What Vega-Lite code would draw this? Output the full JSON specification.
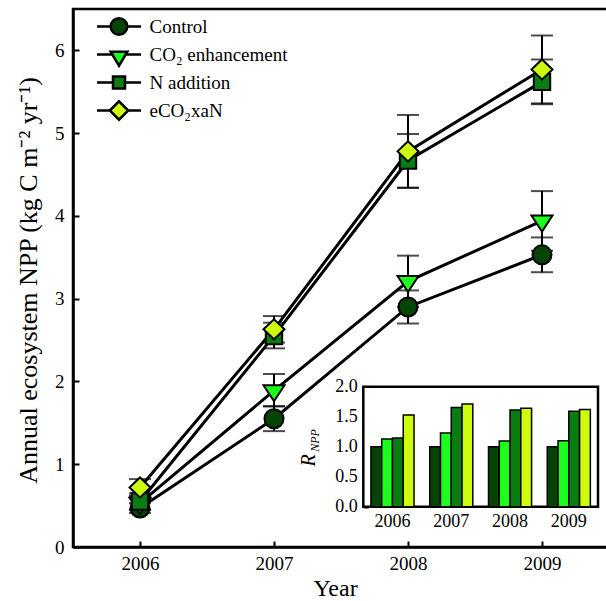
{
  "$schema": "https://vega.github.io/schema/vega-lite/v6.json",
  "width": 536,
  "height": 538,
  "autosize": {"type": "none"},
  "padding": {"left": 73, "top": 9, "right": 0, "bottom": 54},
  "background": "white",
  "config": {
    "font": "Liberation Serif",
    "view": {"stroke": "black", "strokeWidth": 2.5},
    "axis": {
      "grid": false,
      "domainColor": "black",
      "domainWidth": 2.5,
      "tickColor": "black",
      "tickWidth": 2,
      "labelColor": "black",
      "titleColor": "black",
      "labelFont": "Liberation Serif",
      "titleFont": "Liberation Serif",
      "titleFontWeight": "normal"
    },
    "legend": {"labelFont": "Liberation Serif", "labelColor": "black"}
  },
  "datasets": {
    "npp": [
      {"treatment": "Control", "year": 2006, "value": 0.47, "lo": 0.41, "hi": 0.53},
      {"treatment": "Control", "year": 2007, "value": 1.55, "lo": 1.40, "hi": 1.70},
      {"treatment": "Control", "year": 2008, "value": 2.90, "lo": 2.70, "hi": 3.10},
      {"treatment": "Control", "year": 2009, "value": 3.53, "lo": 3.32, "hi": 3.74},
      {"treatment": "CO₂ enhancement", "year": 2006, "value": 0.53, "lo": 0.45, "hi": 0.61},
      {"treatment": "CO₂ enhancement", "year": 2007, "value": 1.89, "lo": 1.70, "hi": 2.09},
      {"treatment": "CO₂ enhancement", "year": 2008, "value": 3.21, "lo": 2.90, "hi": 3.52},
      {"treatment": "CO₂ enhancement", "year": 2009, "value": 3.94, "lo": 3.58, "hi": 4.30},
      {"treatment": "N addition", "year": 2006, "value": 0.55, "lo": 0.45, "hi": 0.65},
      {"treatment": "N addition", "year": 2007, "value": 2.55, "lo": 2.40, "hi": 2.71},
      {"treatment": "N addition", "year": 2008, "value": 4.67, "lo": 4.34, "hi": 4.99},
      {"treatment": "N addition", "year": 2009, "value": 5.62, "lo": 5.35, "hi": 5.89},
      {"treatment": "eCO₂xaN", "year": 2006, "value": 0.72, "lo": 0.62, "hi": 0.82},
      {"treatment": "eCO₂xaN", "year": 2007, "value": 2.63, "lo": 2.47, "hi": 2.79},
      {"treatment": "eCO₂xaN", "year": 2008, "value": 4.78, "lo": 4.34, "hi": 5.22},
      {"treatment": "eCO₂xaN", "year": 2009, "value": 5.77, "lo": 5.36, "hi": 6.18}
    ],
    "ratio": [
      {"year": "2006", "treatment": "Control", "ratio": 1.0},
      {"year": "2006", "treatment": "CO₂ enhancement", "ratio": 1.13},
      {"year": "2006", "treatment": "N addition", "ratio": 1.145},
      {"year": "2006", "treatment": "eCO₂xaN", "ratio": 1.53},
      {"year": "2007", "treatment": "Control", "ratio": 1.0},
      {"year": "2007", "treatment": "CO₂ enhancement", "ratio": 1.23},
      {"year": "2007", "treatment": "N addition", "ratio": 1.655},
      {"year": "2007", "treatment": "eCO₂xaN", "ratio": 1.71},
      {"year": "2008", "treatment": "Control", "ratio": 1.0},
      {"year": "2008", "treatment": "CO₂ enhancement", "ratio": 1.095},
      {"year": "2008", "treatment": "N addition", "ratio": 1.61},
      {"year": "2008", "treatment": "eCO₂xaN", "ratio": 1.64},
      {"year": "2009", "treatment": "Control", "ratio": 1.0},
      {"year": "2009", "treatment": "CO₂ enhancement", "ratio": 1.10},
      {"year": "2009", "treatment": "N addition", "ratio": 1.59},
      {"year": "2009", "treatment": "eCO₂xaN", "ratio": 1.62}
    ],
    "frame": [{"k": 1}]
  },
  "layer": [
    {
      "data": {"name": "npp"},
      "encoding": {
        "x": {
          "field": "year", "type": "quantitative",
          "scale": {"domain": [2005.5, 2009.5], "nice": false, "zero": false},
          "axis": {
            "values": [2006, 2007, 2008, 2009], "format": "d",
            "tickSize": -6, "labelPadding": 13, "labelFontSize": 19,
            "title": "Year", "titleFontSize": 24, "titleX": 262, "titleY": 41,
            "titleBaseline": "middle", "titleAlign": "center"
          }
        },
        "y": {
          "field": "value", "type": "quantitative",
          "scale": {"domain": [0, 6.5], "nice": false, "zero": false},
          "axis": {
            "values": [0, 1, 2, 3, 4, 5, 6],
            "tickSize": -6, "labelPadding": 15, "labelFontSize": 19,
            "title": "Annual ecosystem NPP (kg C m⁻² yr⁻¹)",
            "titleFontSize": 26, "titleX": -45, "titleY": 271,
            "titleAngle": -90, "titleAlign": "center", "titleBaseline": "middle"
          }
        }
      },
      "layer": [
        {
          "mark": {"type": "line", "color": "black", "strokeWidth": 3},
          "encoding": {"detail": {"field": "treatment"}}
        },
        {
          "mark": {"type": "errorbar", "color": "black",
                   "ticks": {"size": 22, "thickness": 2, "color": "black"},
                   "rule": {"strokeWidth": 2, "color": "black"}},
          "encoding": {
            "y": {"field": "lo", "type": "quantitative", "scale": {"domain": [0, 6.5], "nice": false, "zero": false}},
            "y2": {"field": "hi"}
          }
        },
        {
          "mark": {"type": "point", "filled": true, "stroke": "black", "strokeWidth": 2, "size": 400, "opacity": 1},
          "encoding": {
            "shape": {
              "field": "treatment", "type": "nominal",
              "scale": {
                "domain": ["Control", "CO₂ enhancement", "N addition", "eCO₂xaN"],
                "range": [
                  "M0.95,0A0.95,0.95,0,1,1,-0.95,0A0.95,0.95,0,1,1,0.95,0Z",
                  "M-1.05,-0.53L1.05,-0.53L0,1.07Z",
                  "M-0.82,-0.82L0.82,-0.82L0.82,0.82L-0.82,0.82Z",
                  "M-1.05,0L0,-1L1.05,0L0,1Z"
                ]
              },
              "legend": null
            },
            "color": {
              "field": "treatment", "type": "nominal",
              "scale": {
                "domain": ["Control", "CO₂ enhancement", "N addition", "eCO₂xaN"],
                "range": ["#064406", "#1cff1c", "#0a7d12", "#cdfc0f"]
              },
              "legend": null
            }
          }
        }
      ]
    },
    {
      "data": {"name": "npp"},
      "transform": [{"filter": "datum.year < 0"}],
      "mark": {"type": "point", "filled": true, "stroke": "black", "strokeWidth": 2.5, "size": 256, "opacity": 1},
      "encoding": {
        "shape": {
          "field": "treatment", "type": "nominal",
          "scale": {
            "domain": ["Control", "CO₂ enhancement", "N addition", "eCO₂xaN"],
            "range": [
              "M-2.75,0L-1.04,0M1.04,0L2.75,0M1.04,0A1.04,1.04,0,1,1,-1.04,0A1.04,1.04,0,1,1,1.04,0Z",
              "M-2.75,0L-0.83,0M0.83,0L2.75,0M-1.04,-0.35L1.04,-0.35L0,1.4Z",
              "M-2.75,0L-0.75,0M0.75,0L2.75,0M-0.75,-0.75L0.75,-0.75L0.75,0.75L-0.75,0.75Z",
              "M-2.75,0L-1.15,0M1.15,0L2.75,0M-1.15,0L0,-1.15L1.15,0L0,1.15Z"
            ]
          },
          "legend": {
            "title": null, "orient": "none", "legendX": 36.5, "legendY": 8,
            "symbolSize": 256, "symbolStrokeWidth": 2.5, "symbolStrokeColor": "black",
            "labelFontSize": 19, "labelOffset": 21, "rowPadding": -3, "gridAlign": "all", "labelLimit": 300, "padding": 0
          }
        },
        "color": {
          "field": "treatment", "type": "nominal",
          "scale": {
            "domain": ["Control", "CO₂ enhancement", "N addition", "eCO₂xaN"],
            "range": ["#064406", "#1cff1c", "#0a7d12", "#cdfc0f"]
          },
          "legend": {
            "title": null, "orient": "none", "legendX": 36.5, "legendY": 8,
            "symbolSize": 256, "symbolStrokeWidth": 2.5, "symbolStrokeColor": "black",
            "labelFontSize": 19, "labelOffset": 21, "rowPadding": -3, "gridAlign": "all", "labelLimit": 300, "padding": 0
          }
        }
      }
    },
    {
      "layer": [
        {
          "data": {"name": "frame"},
          "mark": {"type": "rect", "fill": "white", "stroke": "black", "strokeWidth": 2.5},
          "encoding": {
            "x": {"datum": 0, "type": "quantitative", "scale": {"domain": [0, 1], "range": [290.3, 525], "nice": false, "zero": false}, "axis": null},
            "x2": {"datum": 1},
            "y": {
              "datum": 0, "type": "quantitative",
              "scale": {"domain": [0, 1], "range": [497.7, 377.7], "nice": false, "zero": false},
              "axis": {
                "orient": "left", "offset": -290.3, "domain": false, "ticks": false, "labels": false,
                "title": "NPP", "titleFontStyle": "italic", "titleFontSize": 12,
                "titleX": -49, "titleY": 431, "titleAngle": -90, "titleAlign": "center", "titleBaseline": "middle"
              }
            },
            "y2": {"datum": 1}
          }
        },
        {
          "data": {"name": "ratio"},
          "mark": {"type": "bar", "stroke": "black", "strokeWidth": 1.5},
          "encoding": {
            "x": {
              "field": "year", "type": "nominal",
              "scale": {"range": [290.3, 525], "paddingInner": 0.267, "paddingOuter": 0.13},
              "axis": {"orient": "bottom", "offset": -40.3, "title": null, "labelAngle": 0, "ticks": false,
                       "labelPadding": 6, "labelFontSize": 18, "domain": false}
            },
            "xOffset": {
              "field": "treatment", "type": "nominal",
              "scale": {"domain": ["Control", "CO₂ enhancement", "N addition", "eCO₂xaN"]}
            },
            "y": {
              "field": "ratio", "type": "quantitative",
              "scale": {"domain": [0, 2], "range": [497.7, 377.7], "nice": false, "zero": true},
              "axis": {
                "orient": "left", "offset": -290.3, "values": [0, 0.5, 1, 1.5, 2], "format": ".1f",
                "tickSize": -5, "labelPadding": 11, "labelFontSize": 18, "domain": false,
                "title": "R", "titleFontStyle": "italic", "titleFontSize": 20,
                "titleX": -55, "titleY": 451, "titleAngle": -90, "titleAlign": "center", "titleBaseline": "middle"
              }
            },
            "color": {
              "field": "treatment", "type": "nominal",
              "scale": {
                "domain": ["Control", "CO₂ enhancement", "N addition", "eCO₂xaN"],
                "range": ["#064406", "#1cff1c", "#0a7d12", "#cdfc0f"]
              },
              "legend": null
            }
          }
        }
      ],
      "resolve": {
        "scale": {"x": "independent", "y": "independent"},
        "axis": {"x": "independent", "y": "independent"}
      }
    }
  ],
  "resolve": {
    "scale": {"x": "independent", "y": "independent", "color": "independent", "shape": "independent"},
    "axis": {"x": "independent", "y": "independent"}
  }
}
